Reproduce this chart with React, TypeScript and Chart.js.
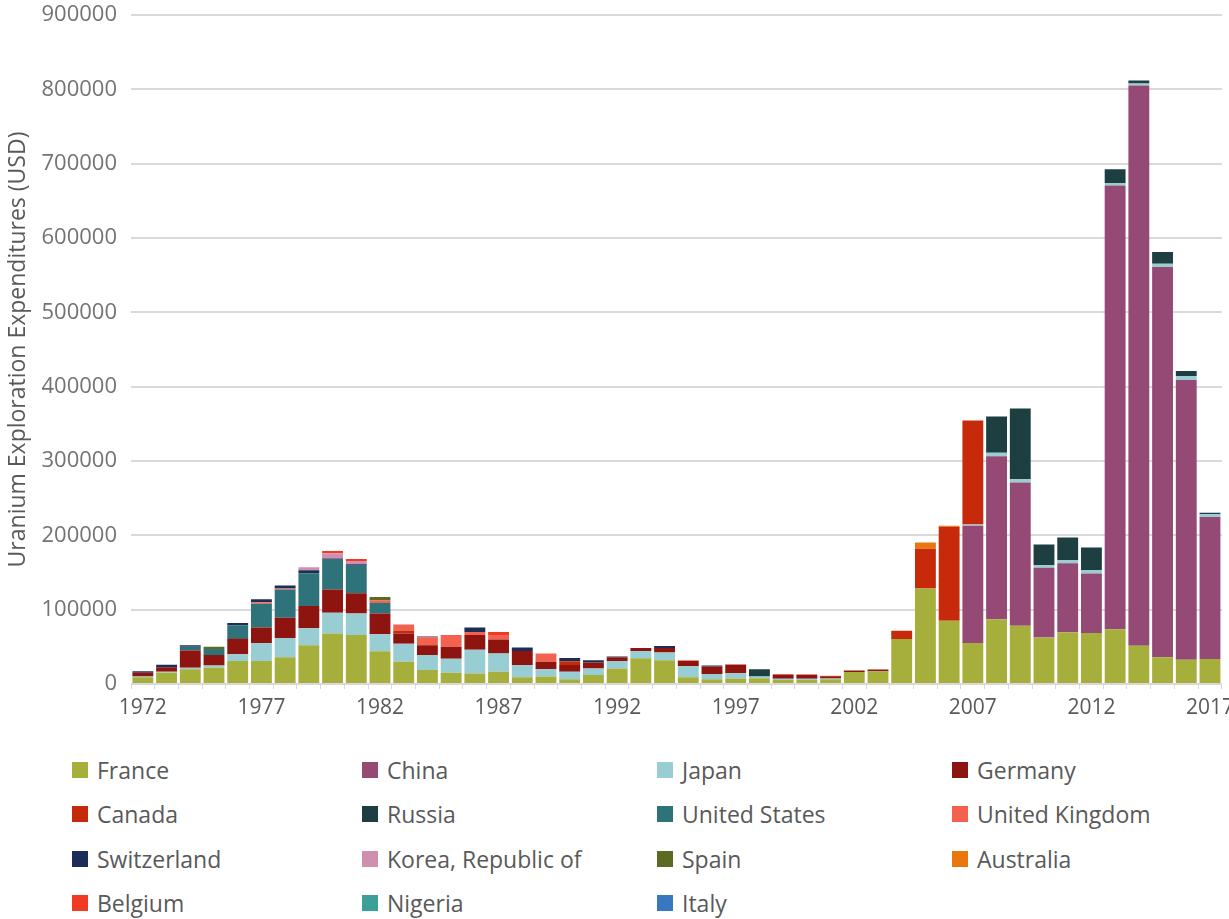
import React, { useEffect, useRef } from "react";
import { Chart, registerables } from "chart.js";

Chart.register(...registerables);

const years = [
  "1972", "1973", "1974", "1975", "1976", "1977", "1978", "1979", "1980", "1981",
  "1982", "1983", "1984", "1985", "1986", "1987", "1988", "1989", "1990", "1991",
  "1992", "1993", "1994", "1995", "1996", "1997", "1998", "1999", "2000", "2001",
  "2002", "2003", "2004", "2005", "2006", "2007", "2008", "2009", "2010", "2011",
  "2012", "2013", "2014", "2015", "2016", "2017",
];

const yTicks = [0, 100000, 200000, 300000, 400000, 500000, 600000, 700000, 800000, 900000];

const france = [
  9000, 15000, 20000, 22000, 31000, 31000, 36000, 52000, 68000, 66000,
  44000, 30000, 19000, 15000, 14000, 16500, 9000, 10000, 6500, 12000,
  21000, 34500, 32000, 9000, 6500, 7500, 7600, 5500, 5500, 6500,
  16000, 17000, 60500, 128500, 85000, 55000, 87000, 78500, 62700, 69500,
  68500, 73500, 51500, 36000, 32500, 33500,
];
const china = [
  0, 0, 0, 0, 0, 0, 0, 0, 0, 0,
  0, 0, 0, 0, 0, 0, 0, 0, 0, 0,
  0, 0, 0, 0, 0, 0, 0, 0, 0, 0,
  0, 0, 0, 0, 0, 158000, 219500, 192500, 93600, 93000,
  80000, 597000, 753500, 525000, 376500, 191000,
];
const japan = [
  1000, 1500, 2000, 3000, 9000, 24000, 26000, 23000, 28000, 29000,
  23000, 24000, 20000, 19000, 32000, 24500, 16500, 10000, 10000, 9000,
  10000, 10000, 10500, 15000, 7000, 7000, 2400, 1500, 1500, 1000,
  0, 0, 0, 0, 0, 1500, 4500, 4500, 3600, 4000,
  5000, 3500, 3000, 4500, 5000, 4000,
];
const germany = [
  5000, 6000, 23000, 14000, 21000, 21000, 27000, 30000, 31000, 27000,
  28000, 14000, 13000, 16000, 20000, 19000, 19000, 10000, 9000, 8000,
  5000, 4000, 6000, 7000, 10000, 11500, 0, 5000, 5000, 3000,
  2000, 2500, 0, 0, 0, 0, 0, 0, 0, 0,
  0, 0, 0, 0, 0, 0,
];
const canada = [
  0, 0, 0, 0, 0, 0, 0, 0, 0, 0,
  0, 4000, 0, 0, 0, 0, 0, 0, 5000, 0,
  0, 0, 0, 0, 0, 0, 0, 0, 0, 0,
  0, 0, 11000, 53500, 126500, 140000, 0, 0, 0, 0,
  0, 0, 0, 0, 0, 0,
];
const russia = [
  0, 0, 0, 0, 1000, 0, 0, 0, 0, 0,
  0, 0, 0, 0, 0, 0, 0, 0, 0, 0,
  0, 0, 0, 0, 0, 0, 9700, 0, 0, 0,
  0, 0, 0, 0, 0, 0, 49000, 95000, 27800, 30500,
  30000, 18500, 4000, 15500, 7000, 2000,
];
const unitedStates = [
  0, 0, 5000, 8000, 17000, 32000, 38000, 44000, 40000, 37000,
  14000, 0, 0, 0, 0, 0, 0, 0, 0, 0,
  0, 0, 0, 0, 0, 0, 0, 0, 0, 0,
  0, 0, 0, 0, 0, 0, 0, 0, 0, 0,
  0, 0, 0, 0, 0, 0,
];
const unitedKingdom = [
  0, 0, 0, 0, 0, 2000, 1500, 0, 0, 0,
  3500, 8000, 11000, 16000, 4000, 5000, 0, 11000, 0, 0,
  0, 0, 0, 1000, 0, 500, 0, 1500, 1000, 500,
  0, 0, 0, 0, 0, 0, 0, 0, 0, 0,
  0, 0, 0, 0, 0, 0,
];
const switzerland = [
  2000, 3500, 2000, 0, 3000, 4000, 4000, 4000, 2000, 2000,
  0, 0, 1000, 0, 6000, 0, 4500, 0, 4500, 3000,
  1000, 0, 2500, 0, 1500, 0, 0, 0, 0, 0,
  0, 0, 0, 0, 0, 0, 0, 0, 0, 0,
  0, 0, 0, 0, 0, 0,
];
const korea = [
  0, 0, 0, 0, 0, 0, 0, 4000, 7000, 4500,
  0, 0, 0, 0, 0, 0, 0, 0, 0, 0,
  0, 0, 0, 0, 0, 0, 0, 0, 0, 0,
  0, 0, 0, 0, 0, 0, 0, 0, 0, 0,
  0, 0, 0, 0, 0, 0,
];
const spain = [
  0, 0, 0, 3000, 0, 0, 0, 0, 0, 0,
  4500, 0, 0, 0, 0, 0, 0, 0, 0, 0,
  0, 0, 0, 0, 0, 0, 0, 0, 0, 0,
  0, 0, 0, 0, 0, 0, 0, 0, 0, 0,
  0, 0, 0, 0, 0, 0,
];
const australia = [
  0, 0, 0, 0, 0, 0, 0, 0, 0, 0,
  0, 0, 0, 0, 0, 0, 0, 0, 0, 0,
  0, 0, 0, 0, 0, 0, 0, 0, 0, 0,
  0, 0, 0, 8500, 1500, 0, 0, 0, 0, 0,
  0, 0, 0, 0, 0, 0,
];
const belgium = [
  0, 0, 0, 0, 0, 0, 0, 0, 3000, 2500,
  0, 0, 0, 0, 0, 5000, 0, 0, 0, 0,
  0, 0, 0, 0, 0, 0, 0, 0, 0, 0,
  0, 0, 0, 0, 0, 0, 0, 0, 0, 0,
  0, 0, 0, 0, 0, 0,
];
const nigeria = [
  0, 0, 0, 0, 0, 0, 0, 0, 0, 0,
  0, 0, 0, 0, 0, 0, 0, 0, 0, 0,
  0, 0, 0, 0, 0, 0, 0, 0, 0, 0,
  0, 0, 0, 0, 0, 0, 0, 0, 0, 0,
  0, 0, 0, 0, 0, 0,
];
const italy = [
  0, 0, 0, 0, 0, 0, 0, 0, 0, 0,
  0, 0, 0, 0, 0, 0, 0, 0, 0, 0,
  0, 0, 0, 0, 0, 0, 0, 0, 0, 0,
  0, 0, 0, 0, 0, 0, 0, 0, 0, 0,
  0, 0, 0, 0, 0, 0,
];

const seriesNames = [
  "France", "China", "Japan", "Germany",
  "Canada", "Russia", "United States", "United Kingdom",
  "Switzerland", "Korea, Republic of", "Spain", "Australia",
  "Belgium", "Nigeria", "Italy",
];
const seriesValues = [
  france, china, japan, germany,
  canada, russia, unitedStates, unitedKingdom,
  switzerland, korea, spain, australia,
  belgium, nigeria, italy,
];
const seriesColors = [
  "#A6AF3B", "#944A75", "#98CDD3", "#8E1410",
  "#C62A0A", "#1E3F42", "#2F737A", "#F4624F",
  "#1C2E58", "#D08FAE", "#5D6B22", "#EA760E",
  "#F03A22", "#3CA09A", "#3877C2",
];

const FONT = "'Open Sans', 'Noto Sans', sans-serif";

export default function App() {
  const canvasRef = useRef<HTMLCanvasElement | null>(null);

  useEffect(() => {
    const canvas = canvasRef.current;
    if (!canvas) return;
    const chart = new Chart(canvas, {
      type: "bar",
      data: {
        labels: years,
        datasets: seriesNames.map((name, i) => ({
          label: name,
          data: seriesValues[i],
          backgroundColor: seriesColors[i],
          borderWidth: 0,
          barPercentage: 0.88,
          categoryPercentage: 1.0,
        })),
      },
      options: {
        responsive: false,
        animation: false,
        devicePixelRatio: 1,
        layout: { padding: { left: 0, top: 15, right: 0, bottom: 0 } },
        plugins: {
          legend: { display: false },
          tooltip: { enabled: false },
          title: { display: false },
        },
        scales: {
          x: {
            stacked: true,
            offset: true,
            grid: {
              display: true,
              offset: true,
              drawOnChartArea: false,
              drawTicks: true,
              tickLength: 5,
              color: "#d9d9d9",
            },
            border: { display: true, color: "#d9d9d9", width: 1 },
            ticks: {
              autoSkip: false,
              maxRotation: 0,
              minRotation: 0,
              padding: 6,
              color: "#595959",
              font: { family: FONT, size: 21 },
              callback: (_v: any, idx: number) => (idx % 5 === 0 ? years[idx] : ""),
            },
            afterFit: (scale: any) => {
              scale.height = 46;
            },
          },
          y: {
            stacked: true,
            min: 0,
            max: 900000,
            afterBuildTicks: (scale: any) => {
              scale.ticks = yTicks.map((v) => ({ value: v }));
            },
            grid: {
              color: "#d9d9d9",
              lineWidth: 2,
              drawTicks: false,
            },
            border: { display: false },
            ticks: {
              padding: 14,
              color: "#737373",
              font: { family: FONT, size: 22 },
              callback: (v: any) => String(v),
            },
            title: {
              display: true,
              text: "Uranium Exploration Expenditures (USD)",
              color: "#595959",
              font: { family: FONT, size: 23 },
              padding: { top: 5, bottom: 0 },
            },
            afterFit: (scale: any) => {
              scale.width = 131;
              scale.paddingTop = 0;
              scale.paddingBottom = 0;
            },
          },
        },
      },
    });
    return () => chart.destroy();
  }, []);

  return (
    <div
      style={{
        position: "fixed",
        left: 0,
        top: 0,
        width: 1229,
        height: 919,
        overflow: "hidden",
        background: "#ffffff",
      }}
    >
      <canvas
        ref={canvasRef}
        width={1240}
        height={730}
        style={{ position: "absolute", left: 0, top: 0, width: 1240, height: 730 }}
      />
      <div
        style={{
          position: "absolute",
          left: 72,
          top: 748,
          display: "grid",
          gridTemplateColumns: "290px 295px 295px 280px",
          gridAutoRows: "44.3px",
          fontFamily: FONT,
          fontSize: 23,
          color: "#595959",
        }}
      >
        {seriesNames.map((name, i) => (
          <div key={name} style={{ display: "flex", alignItems: "center", whiteSpace: "nowrap" }}>
            <span
              style={{
                display: "inline-block",
                width: 16,
                height: 16,
                background: seriesColors[i],
                marginRight: 9,
                flex: "0 0 auto",
              }}
            />
            <span style={{ lineHeight: "26px" }}>{name}</span>
          </div>
        ))}
      </div>
    </div>
  );
}
